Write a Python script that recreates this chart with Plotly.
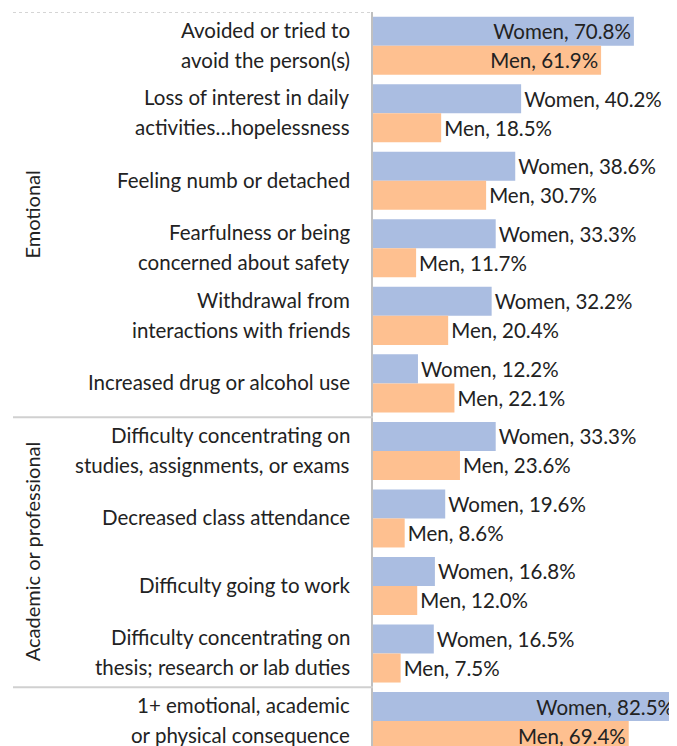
import plotly.graph_objects as go

categories = [
    "Avoided or tried to<br>avoid the person(s)",
    "Loss of interest in daily<br>activities…hopelessness",
    "Feeling numb or detached",
    "Fearfulness or being<br>concerned about safety",
    "Withdrawal from<br>interactions with friends",
    "Increased drug or alcohol use",
    "Difficulty concentrating on<br>studies, assignments, or exams",
    "Decreased class attendance",
    "Difficulty going to work",
    "Difficulty concentrating on<br>thesis; research or lab duties",
    "1+ emotional, academic<br>or physical consequence",
]
women = [70.8, 40.2, 38.6, 33.3, 32.2, 12.2, 33.3, 19.6, 16.8, 16.5, 82.5]
men = [61.9, 18.5, 30.7, 11.7, 20.4, 22.1, 23.6, 8.6, 12.0, 7.5, 69.4]
groups = [("Emotional", -0.5, 5.5), ("Academic or professional", 5.5, 9.5)]

OFF = 8  # page body margin
W = 677 - OFF
H = 746 - OFF
L = 373 - OFF
pw = W - L

ypos = list(range(len(categories)))
FONT = "Lato"
FS = 20.5
TXT = "#222222"

def positions(vals):
    return ["inside" if v > 60 else "outside" for v in vals]

fig = go.Figure()
fig.add_trace(go.Bar(
    y=ypos, x=women, orientation="h", name="Women",
    marker=dict(color="#aabde1", line=dict(width=0)),
    text=[f"Women, {v:.1f}%" for v in women],
    textposition=positions(women), insidetextanchor="end",
    textfont=dict(family=FONT, size=FS, color=TXT),
    cliponaxis=False, constraintext="none",
))
fig.add_trace(go.Bar(
    y=ypos, x=men, orientation="h", name="Men",
    marker=dict(color="#fec090", line=dict(width=0)),
    text=[f"Men, {v:.1f}%" for v in men],
    textposition=positions(men), insidetextanchor="end",
    textfont=dict(family=FONT, size=FS, color=TXT),
    cliponaxis=False, constraintext="none",
))

x0 = (13 - 373) / pw
shapes = [
    dict(type="line", xref="paper", yref="y", x0=x0, x1=0, y0=-0.5, y1=-0.5,
         line=dict(color="#c8c8c8", width=1.5, dash="dot")),
]
for _, a, b in groups:
    shapes.append(dict(type="line", xref="paper", yref="y", x0=x0, x1=0, y0=b, y1=b,
                       line=dict(color="#d0d0d0", width=2)))

annotations = []
for name, a, b in groups:
    annotations.append(dict(
        text=name, xref="paper", yref="y", x=(32 - 373) / pw, y=(a + b) / 2,
        textangle=-90, showarrow=False, xanchor="center", yanchor="middle",
        font=dict(family=FONT, size=20, color=TXT),
    ))

# category labels with Excel-like line spacing
xl = (352 - 373) / pw
for i, cat in enumerate(categories):
    lines = cat.split("<br>")
    n = len(lines)
    for j, line in enumerate(lines):
        shift = -(j - (n - 1) / 2) * 30 + 1
        annotations.append(dict(
            text=line, xref="paper", yref="y", x=xl, y=i, yshift=shift,
            showarrow=False, xanchor="right", yanchor="middle",
            font=dict(family=FONT, size=FS, color=TXT),
        ))

fig.update_layout(
    width=W, height=H,
    margin=dict(l=L, r=0, t=12 - OFF, b=0),
    barmode="group", bargap=0.14, bargroupgap=0,
    plot_bgcolor="white", paper_bgcolor="white",
    showlegend=False,
    shapes=shapes, annotations=annotations,
    uniformtext=dict(mode=False),
)
fig.update_xaxes(range=[0, 82.5], visible=False, showgrid=False, zeroline=False)
fig.update_yaxes(
    range=[10.37, -0.5], tickmode="array", tickvals=ypos, showticklabels=False,
    showline=True, linecolor="#c0c0c0", linewidth=2, ticks="",
    showgrid=False, zeroline=False,
)

fig.write_html("out.html")
